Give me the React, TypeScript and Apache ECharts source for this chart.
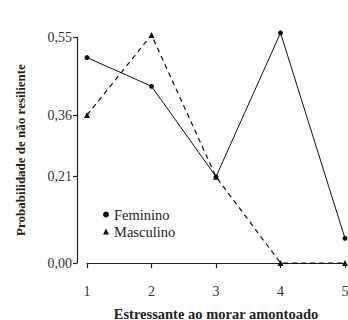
import React, { useEffect, useRef } from "react";
import * as echarts from "echarts";

const categories = [1, 2, 3, 4, 5];
const feminino = [0.5, 0.43, 0.21, 0.56, 0.06];
const masculino = [0.36, 0.555, 0.21, 0.0, 0.0];
const yTicks = [0, 0.21, 0.36, 0.55];

const FONT = "Liberation Serif";

export default function App() {
  const ref = useRef<HTMLDivElement>(null);
  useEffect(() => {
    if (!ref.current) return;
    const chart = echarts.init(ref.current, null, { renderer: "svg" });
    const legendText = { fontFamily: FONT, fontSize: 14.5, color: "#222" };
    chart.setOption({
      animation: false,
      backgroundColor: "#fff",
      grid: { left: 87, right: 3, top: 37, bottom: 57, outerBoundsMode: "none", containLabel: false },
      legend: {
        orient: "vertical",
        left: 98,
        top: 202,
        itemWidth: 6,
        itemHeight: 6,
        itemGap: 2,
        textStyle: legendText,
        data: [
          { name: "Feminino", icon: "circle", textStyle: legendText },
          { name: "Masculino", icon: "triangle", textStyle: legendText },
        ],
      },
      xAxis: {
        type: "value",
        min: 1,
        max: 5,
        interval: 1,
        offset: 10,
        name: "Estressante ao morar amontoado",
        nameLocation: "middle",
        nameGap: 33,
        nameTextStyle: { fontFamily: FONT, fontSize: 14.5, fontWeight: "bold", color: "#222" },
        axisLine: { lineStyle: { color: "#222", width: 1.2 } },
        axisTick: { inside: false, length: 5, lineStyle: { color: "#222", width: 1.2 } },
        axisLabel: { fontFamily: FONT, fontSize: 14, color: "#333", margin: 11, formatter: (v: number) => String(v) },
        splitLine: { show: false },
      },
      yAxis: {
        type: "value",
        min: 0,
        max: 0.55,
        offset: 10,
        name: "Probabilidade de não resiliente",
        nameLocation: "middle",
        nameGap: 50,
        nameRotate: 90,
        nameTextStyle: { fontFamily: FONT, fontSize: 13, fontWeight: "bold", color: "#222" },
        axisLine: { show: true, lineStyle: { color: "#222", width: 1.2 } },
        axisTick: { show: true, length: 4, customValues: yTicks, lineStyle: { color: "#222", width: 1.2 } },
        axisLabel: {
          fontFamily: FONT,
          fontSize: 14,
          color: "#333",
          margin: 5,
          customValues: yTicks,
          formatter: (v: number) => v.toFixed(2).replace(".", ","),
        },
        splitLine: { show: false },
      },
      series: [
        {
          name: "Feminino",
          type: "line",
          clip: false,
          data: categories.map((c, i) => [c, feminino[i]]),
          symbol: "circle",
          symbolSize: 5,
          lineStyle: { color: "#111", width: 1, type: "solid" },
          itemStyle: { color: "#111" },
        },
        {
          name: "Masculino",
          type: "line",
          clip: false,
          data: categories.map((c, i) => [c, masculino[i]]),
          symbol: "triangle",
          symbolSize: 6,
          lineStyle: { color: "#111", width: 1.2, type: [5, 4] },
          itemStyle: { color: "#111" },
        },
      ],
    });
    return () => chart.dispose();
  }, []);
  return <div ref={ref} style={{ width: 348, height: 320, position: "absolute", left: 0, top: 0 }} />;
}
